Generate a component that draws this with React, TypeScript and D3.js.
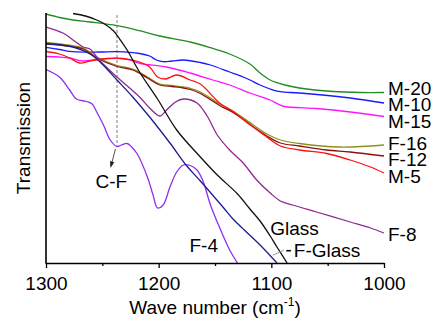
import { useEffect, useRef } from "react";
import * as d3 from "d3";

// [wave number (cm-1), transmission (a.u.)]
const m20 = [[1300,249],[1288,245.5],[1276,243],[1261,241],[1237,237.3],[1217,232.3],[1199,227],[1172,221],[1154,215.3],[1137,209],[1119,199],[1110,190],[1101,183],[1088,178],[1075,175],[1045,171.5],[1021,170.5],[1000,170.5]];
const m10 = [[1300,215.7],[1288,213.5],[1276,211.3],[1252,211],[1237,211.3],[1217,209.5],[1208,207],[1202,203],[1196,201.3],[1188,202],[1178,203],[1163,200.5],[1154,198],[1137,191],[1125,186],[1119,183],[1110,178],[1101,174],[1092,171.3],[1075,170],[1030,165],[1000,160]];
const m15 = [[1300,206.5],[1288,206],[1279,205],[1267,202],[1255,203.5],[1237,204.7],[1225,203],[1217,199.7],[1193,196],[1172,190],[1152,183],[1137,178],[1119,170],[1101,163],[1090,157],[1060,154.5],[1030,151],[1000,146.5]];
const f16 = [[1300,220.5],[1281,218],[1267,215],[1255,206],[1237,197.5],[1223,194],[1210,186],[1199,179],[1188,177.5],[1178,176],[1172,174.7],[1163,171],[1146,159],[1134,152],[1116,138],[1104,129],[1092,123],[1075,119.5],[1039,116],[1000,118]];
const f12 = [[1300,219.5],[1281,217],[1267,214],[1255,205],[1237,196.5],[1223,193],[1210,185],[1199,178],[1188,176.5],[1178,175],[1172,173.5],[1163,169.5],[1146,157.5],[1134,150.5],[1116,136],[1104,127],[1092,120],[1075,117],[1051,113],[1030,111],[1000,107]];
const m5 = [[1300,211.5],[1288,209],[1279,205],[1270,200],[1261,202],[1246,204.5],[1232,204.5],[1217,201],[1208,196],[1201,186],[1194,184],[1184,188],[1172,183],[1163,179],[1146,160],[1134,151.5],[1116,136],[1104,126],[1092,117],[1075,113],[1051,109.5],[1030,103],[1012,96],[1000,90]];
const f8 = [[1300,236],[1285,230],[1276,223],[1267,216],[1261,214],[1252,202],[1237,186],[1217,166],[1208,155],[1199,147],[1193,153],[1185,161],[1178,164],[1166,160],[1157,147],[1148,128],[1137,113],[1125,100],[1113,83],[1101,70],[1092,62],[1081,58],[1060,51],[1030,41],[1012,35],[1000,30]];
const f4 = [[1300,193.5],[1288,186],[1279,173],[1273,164],[1264,161.5],[1259,159],[1255,151],[1249,138],[1243,123],[1237,116.5],[1233,118],[1228,119.5],[1224,116],[1219,109],[1210,86],[1205,68],[1201,55],[1196,58],[1190,76],[1184,91],[1178,98],[1172,97.5],[1166,93],[1161,83],[1154,58],[1148,41],[1137,13],[1130,0]];
const fGlass = [[1300,219],[1276,216],[1261,209],[1252,201],[1237,183],[1223,166],[1208,146],[1190,120],[1175,97],[1163,82],[1143,56],[1134,44],[1124,33],[1110,18],[1095,0]];
const glass = [[1276,249.5],[1265,247],[1255,243],[1248,239],[1240,232],[1234,223],[1228,213],[1217,191],[1201,164],[1184,133],[1163,106],[1148,88],[1130,69],[1119,54],[1110,42],[1101,27],[1095,16],[1086,0]];

const sampleNames = ["M-20", "M-10", "M-15", "F-16", "F-12", "M-5", "F-8", "F-4", "F-Glass", "Glass"];
const majorTicks = [1300, 1200, 1100, 1000];
const minorTicks = [1250, 1150, 1050];
const cfWave = 1237;

export default function App() {
  const svgRef = useRef<SVGSVGElement>(null);

  useEffect(() => {
    const width = 434;
    const height = 320;
    const left = 46, right = 384, top = 13, bottom = 263;
    const font = "'Liberation Sans', Arial, sans-serif";

    const curves = [m20, m10, m15, f16, f12, m5, f8, f4, fGlass, glass];
    const colors = ["#238b23", "#1a1aff", "#ff14ff", "#8f8f1c", "#8b1212", "#ff1010", "#8e2a8e", "#8f2ff0", "#1c1c8c", "#111111"];

    const svg = d3.select(svgRef.current);
    svg.selectAll("*").remove();
    svg.attr("width", width).attr("height", height).attr("viewBox", `0 0 ${width} ${height}`);

    const x = d3.scaleLinear().domain([1300, 1000]).range([left, right]);
    const y = d3.scaleLinear().domain([0, 250]).range([bottom, top]);

    svg.append("clipPath").attr("id", "plot-clip")
      .append("rect").attr("x", left).attr("y", 0).attr("width", right - left + 2).attr("height", bottom);

    // C-F marker
    svg.append("line")
      .attr("x1", x(cfWave)).attr("x2", x(cfWave))
      .attr("y1", y(248)).attr("y2", y(117))
      .attr("stroke", "#8a8a8a").attr("stroke-width", 1.1)
      .attr("stroke-dasharray", "3,2");

    const line = d3.line<number[]>()
      .x((d) => x(d[0]))
      .y((d) => y(d[1]))
      .curve(d3.curveCatmullRom.alpha(0.5));

    svg.append("g").attr("clip-path", "url(#plot-clip)")
      .selectAll("path")
      .data(curves)
      .join("path")
      .attr("fill", "none")
      .attr("stroke", (_, i) => colors[i])
      .attr("stroke-width", 1.3)
      .attr("d", (d) => line(d));

    // axes
    const xAxis = svg.append("g")
      .attr("transform", `translate(0,${bottom})`)
      .call(d3.axisBottom(x).tickValues(majorTicks).tickSize(5).tickSizeOuter(0).tickPadding(9).tickFormat(d3.format("d")));
    xAxis.select(".domain").attr("stroke", "#000").attr("stroke-width", 1.6);
    xAxis.selectAll(".tick line").attr("stroke", "#000").attr("stroke-width", 1.3);
    xAxis.selectAll("text").style("font-family", font).style("font-size", "19px").attr("fill", "#000");

    const minor = svg.append("g")
      .attr("transform", `translate(0,${bottom})`)
      .call(d3.axisBottom(x).tickValues(minorTicks).tickSize(3).tickFormat(() => ""));
    minor.select(".domain").remove();
    minor.selectAll(".tick line").attr("stroke", "#000").attr("stroke-width", 1.3);

    svg.append("line")
      .attr("x1", left).attr("x2", left).attr("y1", top).attr("y2", bottom + 0.8)
      .attr("stroke", "#000").attr("stroke-width", 1.6);

    // axis titles
    svg.append("text")
      .attr("transform", `translate(30,${(top + bottom) / 2}) rotate(-90)`)
      .attr("text-anchor", "middle")
      .style("font-family", font).style("font-size", "19px")
      .text("Transmission");

    const xt = svg.append("text")
      .attr("x", (left + right) / 2).attr("y", 314)
      .attr("text-anchor", "middle")
      .style("font-family", font).style("font-size", "19px");
    xt.append("tspan").text("Wave number (cm");
    xt.append("tspan").attr("dy", -8).style("font-size", "12px").text("-1");
    xt.append("tspan").attr("dy", 8).text(")");

    // right-hand labels
    const labelLevels = [168.5, 152.5, 135.5, 113, 97.5, 80.5, 22.5];
    svg.append("g")
      .selectAll("text")
      .data(labelLevels)
      .join("text")
      .attr("x", x(1000) + 4)
      .attr("y", (d) => y(d))
      .style("font-family", font).style("font-size", "19px")
      .text((_, i) => sampleNames[i]);

    svg.append("text")
      .attr("x", x(1160)).attr("y", y(11))
      .attr("text-anchor", "middle")
      .style("font-family", font).style("font-size", "19px")
      .text(sampleNames[7]);

    svg.append("text")
      .attr("x", x(1101)).attr("y", y(28))
      .style("font-family", font).style("font-size", "19px")
      .text(sampleNames[9]);

    const fgX = x(1080);
    const fgY = y(6.3);
    svg.append("text")
      .attr("x", fgX).attr("y", fgY)
      .style("font-family", font).style("font-size", "19px")
      .text(sampleNames[8]);
    svg.append("line")
      .attr("x1", fgX - 21).attr("y1", fgY - 1.5)
      .attr("x2", fgX - 10).attr("y2", fgY - 6.5)
      .attr("stroke", "#999").attr("stroke-width", 1);
    svg.append("line")
      .attr("x1", fgX - 7.5).attr("y1", fgY - 6)
      .attr("x2", fgX - 3).attr("y2", fgY - 6)
      .attr("stroke", "#000").attr("stroke-width", 1.6);

    // C-F label with arrow
    const ax1 = x(cfWave) - 1.5, ay1 = y(114);
    const ax2 = x(cfWave) - 6, ay2 = y(97);
    svg.append("line")
      .attr("x1", ax1).attr("y1", ay1).attr("x2", ax2).attr("y2", ay2)
      .attr("stroke", "#555").attr("stroke-width", 1);
    const ang = Math.atan2(ay2 - ay1, ax2 - ax1);
    const head = 5, spread = 0.45;
    svg.append("path")
      .attr("d", `M${ax2 + Math.cos(ang) * 2},${ay2 + Math.sin(ang) * 2}`
        + `L${ax2 - Math.cos(ang - spread) * head},${ay2 - Math.sin(ang - spread) * head}`
        + `L${ax2 - Math.cos(ang + spread) * head},${ay2 - Math.sin(ang + spread) * head}Z`)
      .attr("fill", "#222");
    svg.append("text")
      .attr("x", x(1242)).attr("y", y(75))
      .attr("text-anchor", "middle")
      .style("font-family", font).style("font-size", "19px")
      .text("C-F");
  }, []);

  return (
    <div>
      <svg ref={svgRef} style={{ position: "absolute", left: 0, top: 0, background: "#fff" }}></svg>
    </div>
  );
}
